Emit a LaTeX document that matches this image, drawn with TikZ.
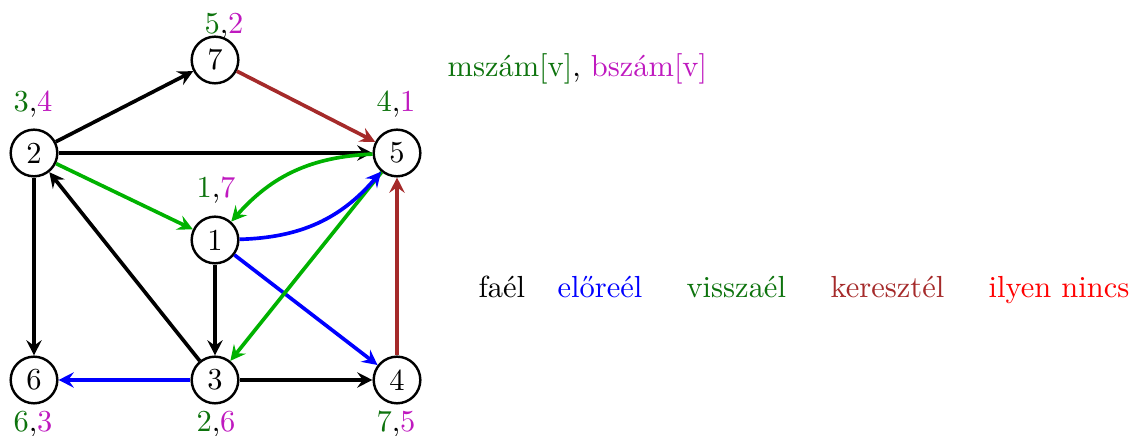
\documentclass[tikz,border=0pt]{standalone}
\usetikzlibrary{arrows.meta}
\definecolor{tgreen}{rgb}{0.05,0.45,0.05}
\definecolor{tmag}{rgb}{0.75,0.1,0.75}
\definecolor{egreen}{rgb}{0,0.7,0}
\definecolor{ebrown}{RGB}{165,42,42}
\newcommand{\gr}[1]{\textcolor{tgreen}{#1}}
\newcommand{\mg}[1]{\textcolor{tmag}{#1}}
\tikzset{
  vtx/.style={circle,draw,line width=0.8pt,minimum size=15.3pt,inner sep=0pt},
  lab/.style={anchor=base,inner sep=0pt},
  leg/.style={anchor=base west,inner sep=0pt},
  edge/.style={line width=1.2pt,-{Stealth[length=5pt,width=5pt,inset=1.8pt]}},
}
\begin{document}
\begin{tikzpicture}[x=0.328pt,y=-0.328pt]
\useasboundingbox (0,0) rectangle (1132,436);
\node[vtx] (n7) at (215,60) {7};
\node[vtx] (n2) at (34,153) {2};
\node[vtx] (n5) at (397,153) {5};
\node[vtx] (n1) at (215,240) {1};
\node[vtx] (n6) at (34,380) {6};
\node[vtx] (n3) at (215,380) {3};
\node[vtx] (n4) at (397,380) {4};

\node[lab] (l7) at (224,34) {\gr{5},\mg{2}};
\node[lab] (l2) at (33,112) {\gr{3},\mg{4}};
\node[lab] (l5) at (396,112) {\gr{4},\mg{1}};
\node[lab] (l1) at (216,198) {\gr{1},\mg{7}};
\node[lab] (l6) at (33,432) {\gr{6},\mg{3}};
\node[lab] (l3) at (216,432) {\gr{2},\mg{6}};
\node[lab] (l4) at (396,432) {\gr{7},\mg{5}};

\draw[edge] (n2) -- (n7);
\draw[edge,ebrown] (n7) -- (n5);
\draw[edge] (n2) -- (n5);
\draw[edge,egreen] (n2) -- (n1);
\draw[edge] (n2) -- (n6);
\draw[edge] (n3) -- (n2);
\draw[edge] (n1) -- (n3);
\draw[edge,blue] (n1) -- (n4);
\draw[edge,egreen] (n5) -- (n3);
\draw[edge,blue] (n3) -- (n6);
\draw[edge] (n3) -- (n4);
\draw[edge,ebrown] (n4) -- (n5);
\draw[edge,egreen] (n5) to[bend right=23] (n1);
\draw[edge,blue] (n1) to[bend right=24] (n5);

\node[leg] (t1) at (447,77) {\gr{mszám[v]}, \mg{bszám[v]}};
\node[leg] (f1) at (478,298) {faél};
\node[leg,text=blue] (f2) at (557,298) {előreél};
\node[leg,text=tgreen] (f3) at (686,298) {visszaél};
\node[leg,text=ebrown] (f4) at (830,298) {keresztél};
\node[leg,text=red] (f5) at (988,298) {ilyen nincs};
\end{tikzpicture}
\end{document}
